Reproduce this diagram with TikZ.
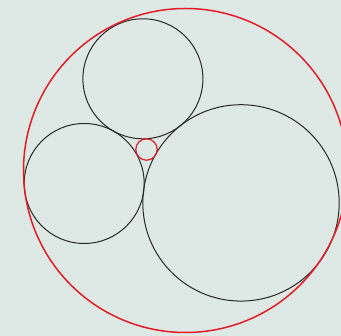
\documentclass[tikz,border=0pt]{standalone}
\definecolor{bg}{RGB}{222,232,229}
\definecolor{ink}{RGB}{40,40,40}
\definecolor{redline}{RGB}{225,30,40}
\tikzset{
  blackcircle/.style={draw=ink, line width=1pt},
  redcircle/.style={draw=redline, line width=1.5pt},
  smallred/.style={draw=redline, line width=1.2pt}
}
\begin{document}
\begin{tikzpicture}[x=1pt,y=1pt]
\fill[bg] (0,0) rectangle (341,336);
\useasboundingbox (0,0) rectangle (341,336);
\clip (0,0) rectangle (341,336);
\coordinate (O) at (185.5,165.5);
\coordinate (A) at (142.9,257.2);
\coordinate (B) at (84.2,152.5);
\coordinate (C) at (241.0,133.1);
\coordinate (P) at (146.5,186.5);
\draw[blackcircle] (A) circle[radius=60];
\draw[blackcircle] (B) circle[radius=60];
\draw[blackcircle] (C) circle[radius=98.2];
\draw[redcircle] (O) circle[radius=162];
\draw[smallred] (P) circle[radius=10.7];
\end{tikzpicture}
\end{document}
